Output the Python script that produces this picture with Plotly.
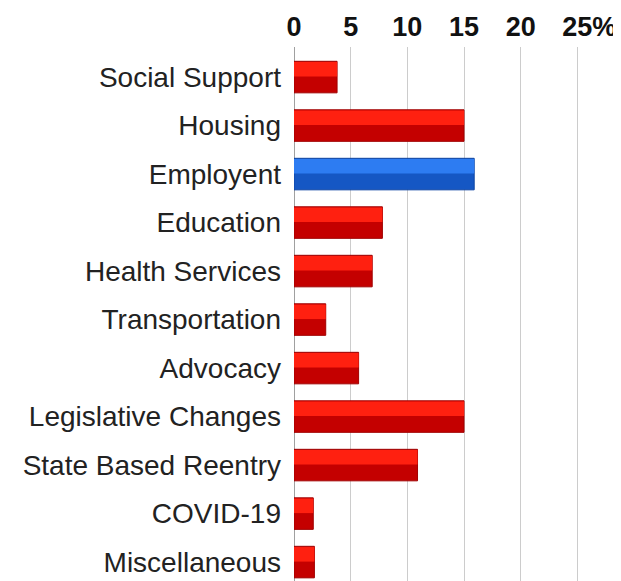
import plotly.graph_objects as go

categories = ["Social Support", "Housing", "Employent", "Education", "Health Services",
              "Transportation", "Advocacy", "Legislative Changes", "State Based Reentry",
              "COVID-19", "Miscellaneous"]
values = [3.8, 15.0, 15.9, 7.8, 6.9, 2.8, 5.7, 15.0, 10.9, 1.7, 1.8]
tick_vals = [0, 5, 10, 15, 20, 25]
tick_text = ["0", "5", "10", "15", "20",
             "<span style='color:rgba(0,0,0,0)'>%</span>25%"]

dark = ["#1557c4" if c == "Employent" else "#c40000" for c in categories]
light = ["#2d7cf2" if c == "Employent" else "#ff2010" for c in categories]
edge = ["#0e45a3" if c == "Employent" else "#a00000" for c in categories]

fig = go.Figure()
fig.add_trace(go.Bar(
    x=values, y=categories, orientation="h", width=0.65,
    marker=dict(color=dark, line=dict(color=edge, width=1)),
    hoverinfo="x+y", showlegend=False))
fig.add_trace(go.Bar(
    x=values, y=categories, orientation="h", width=0.3, offset=-0.31,
    marker=dict(color=light, line=dict(width=0)),
    hoverinfo="skip", showlegend=False))

fig.update_layout(
    width=613, height=573,
    margin=dict(l=286, r=21, t=39, b=0),
    paper_bgcolor="white", plot_bgcolor="white",
    barmode="overlay",
    font=dict(family="Liberation Sans, Arial, sans-serif", color="#1a1a1a"),
    xaxis=dict(side="top", range=[0, 27], tickvals=tick_vals, ticktext=tick_text,
               showgrid=True, gridcolor="#cccccc", gridwidth=1,
               zeroline=True, zerolinecolor="#a0a0a0", zerolinewidth=1,
               ticks="", ticklabelstandoff=5,
               tickfont=dict(size=27, color="#111111", family="Liberation Sans, Arial, sans-serif",
                             weight="bold")),
    yaxis=dict(type="category", categoryorder="array", categoryarray=categories,
               range=[10.39, -0.62], showgrid=False, zeroline=False,
               ticks="", ticklabelstandoff=12,
               tickfont=dict(size=28, color="#222222")),
)

fig.write_html("out.html")
